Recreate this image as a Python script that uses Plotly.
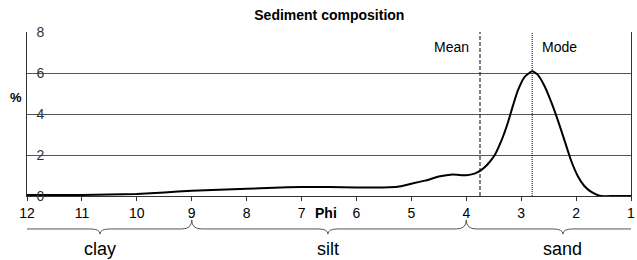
import plotly.graph_objects as go

# ---- data ----
phi = [12, 11.5, 11, 10.5, 10, 9.5, 9, 8.5, 8, 7.5, 7, 6.5, 6, 5.5, 5.25, 5.0, 4.75, 4.5,
       4.25, 4.0, 3.85, 3.73, 3.61, 3.49, 3.36, 3.24, 3.15, 3.06, 2.94, 2.8, 2.7, 2.58,
       2.45, 2.33, 2.21, 2.09, 1.97, 1.85, 1.7, 1.55, 1.3, 1.0]
percent = [0.05, 0.05, 0.05, 0.07, 0.1, 0.17, 0.26, 0.3, 0.35, 0.4, 0.44, 0.44, 0.42, 0.42,
           0.45, 0.6, 0.75, 0.95, 1.05, 1.01, 1.09, 1.26, 1.55, 1.96, 2.7, 3.6, 4.41, 5.15,
           5.8, 6.08, 5.92, 5.39, 4.57, 3.68, 2.7, 1.72, 0.98, 0.49, 0.16, 0.0, 0.0, 0.0]

mean_phi = 3.75
mode_phi = 2.8

x_ticks = [12, 11, 10, 9, 8, 7, 6, 5, 4, 3, 2, 1]
y_ticks = [0, 2, 4, 6, 8]

classes = ["clay", "silt", "sand"]
class_start = [12, 9, 4]
class_end = [9, 4, 1]
class_tip = [10.67, 6.52, 2.24]

FONT = "Liberation Sans, Arial, sans-serif"

fig = go.Figure()
fig.add_trace(go.Scatter(x=phi, y=percent, mode="lines",
                         line=dict(color="black", width=2, shape="spline", smoothing=0.5),
                         showlegend=False, hoverinfo="skip", cliponaxis=False))

# mean / mode lines
fig.add_shape(type="line", xref="x", yref="paper", x0=mean_phi, x1=mean_phi, y0=0, y1=1,
              line=dict(color="black", width=1, dash="4px,2px"))
fig.add_shape(type="line", xref="x", yref="paper", x0=mode_phi, x1=mode_phi, y0=0, y1=1,
              line=dict(color="black", width=1, dash="1px,1px"))

annotations = [
    dict(text="Mean", x=mean_phi, y=0.909, xref="x", yref="paper", xanchor="right",
         yanchor="middle", xshift=-9, showarrow=False, font=dict(size=14, color="black")),
    dict(text="Mode", x=mode_phi, y=0.909, xref="x", yref="paper", xanchor="left",
         yanchor="middle", xshift=8, showarrow=False, font=dict(size=14, color="black")),
    dict(text="<b>Phi</b>", x=6.55, y=-0.104, xref="x", yref="paper", xanchor="center",
         yanchor="middle", showarrow=False, font=dict(size=14, color="black")),
    dict(text="<b>%</b>", x=-0.018, y=0.598, xref="paper", yref="paper", xanchor="center",
         yanchor="middle", showarrow=False, font=dict(size=13, color="black")),
]

# braces
y_h = -0.201
y_tip = -0.232
y_top = -0.146
d = 0.18
for name, a, b, t in zip(classes, class_start, class_end, class_tip):
    if a < 12:
        p = f"M {a},{y_top} Q {a},{y_h} {a-d},{y_h} "
    else:
        p = f"M {a},{y_h} "
    p += f"L {t+d},{y_h} Q {t},{y_h} {t},{y_tip} Q {t},{y_h} {t-d},{y_h} "
    if b > 1:
        p += f"L {b+d},{y_h} Q {b},{y_h} {b},{y_top}"
    else:
        p += f"L {b},{y_h}"
    fig.add_shape(type="path", xref="x", yref="paper", path=p,
                  line=dict(color="#555555", width=1))
    annotations.append(dict(text=name, x=t, y=-0.323, xref="x", yref="paper",
                            xanchor="center", yanchor="middle", showarrow=False,
                            font=dict(size=18, color="black")))

fig.update_layout(
    width=637, height=260,
    margin=dict(l=27, r=6, t=32, b=64, autoexpand=False),
    paper_bgcolor="white", plot_bgcolor="white",
    font=dict(family=FONT, color="black"),
    title=dict(text="<b>Sediment composition</b>", x=0.517, xanchor="center",
               y=1 - 15 / 260, yanchor="middle", font=dict(size=14, color="black")),
    annotations=annotations,
    showlegend=False,
)
fig.update_xaxes(range=[12, 1], tickvals=x_ticks, ticktext=[str(v) for v in x_ticks],
                 showgrid=False, zeroline=False, showline=True, linecolor="#333333",
                 linewidth=1, ticks="outside", ticklen=4, tickcolor="#333333",
                 tickfont=dict(size=14, color="black"), automargin=False)
fig.update_yaxes(range=[0, 8], tickvals=y_ticks, showgrid=True, gridcolor="#555555",
                 gridwidth=1, zeroline=False, showline=True, mirror=True,
                 linecolor="#333333", linewidth=1, ticks="",
                 ticklabelposition="outside", ticklabelstandoff=-21,
                 tickfont=dict(size=14, color="#333333"), automargin=False)

fig.write_html("out.html", config={"displayModeBar": False},
               post_script="document.body.style.margin='0';document.body.style.padding='0';")
